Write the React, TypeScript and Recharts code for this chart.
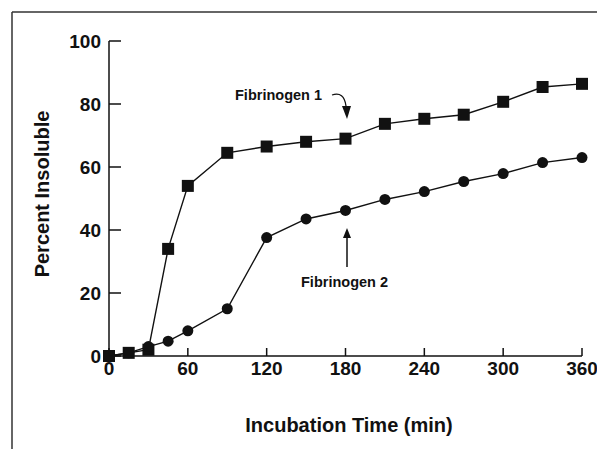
import { LineChart, Line, XAxis, YAxis } from 'recharts'

const TIMES = [0, 15, 30, 45, 60, 90, 120, 150, 180, 210, 240, 270, 300, 330, 360]
const FIBRINOGEN_1 = [0, 1, 2, 34, 54, 64.5, 66.5, 68, 69, 73.7, 75.3, 76.6, 80.7, 85.4, 86.4]
const FIBRINOGEN_2 = [0, 1, 3, 4.7, 8, 15, 37.6, 43.5, 46.2, 49.7, 52.2, 55.4, 57.9, 61.4, 63]
const X_TICKS = [0, 60, 120, 180, 240, 300, 360]
const Y_TICKS = [0, 20, 40, 60, 80, 100]

const data = TIMES.map((t, i) => ({ t, f1: FIBRINOGEN_1[i], f2: FIBRINOGEN_2[i] }))

const FONT = '"Liberation Sans", Arial, Helvetica, sans-serif'

function YTick({ x, y, payload }: any) {
  // tickMargin is 7, so axis line sits at x + 7
  return (
    <g>
      <line x1={x + 7} x2={x + 19} y1={y} y2={y} stroke="#111" strokeWidth={1.5} />
      <text x={x - 1} y={y} dy="0.36em" textAnchor="end" fontSize={19} fontWeight="bold" fill="#111" fontFamily={FONT}>
        {payload.value}
      </text>
    </g>
  )
}

function XTick({ x, y, payload }: any) {
  // tickMargin is 5, axis line at y - 5
  return (
    <g>
      <line x1={x} x2={x} y1={y - 5} y2={y - 13} stroke="#111" strokeWidth={1.5} />
      <text x={x} y={y} dy="0.75em" textAnchor="middle" fontSize={19} fontWeight="bold" fill="#111" fontFamily={FONT}>
        {payload.value}
      </text>
    </g>
  )
}

function SquareDot({ cx, cy, index }: any) {
  return <rect key={`s${index}`} x={cx - 6} y={cy - 6} width={12} height={12} fill="#111" />
}

function CircleDot({ cx, cy, index }: any) {
  return <circle key={`c${index}`} cx={cx} cy={cy} r={5.5} fill="#111" />
}

export default function App() {
  return (
    <div style={{ position: 'absolute', left: 0, top: 0, width: 597, height: 449, background: '#fff', fontFamily: FONT }}>
      <LineChart width={597} height={449} data={data} margin={{ top: 41, right: 15, left: 0, bottom: 63 }}>
        <XAxis
          dataKey="t"
          type="number"
          domain={[0, 360]}
          ticks={X_TICKS}
          interval={0}
          height={30}
          tickSize={0}
          tickMargin={5}
          tick={<XTick />}
          axisLine={{ stroke: '#111', strokeWidth: 1.5 }}
          tickLine={false}
        />
        <YAxis
          type="number"
          domain={[0, 100]}
          ticks={Y_TICKS}
          interval={0}
          width={109}
          tickSize={0}
          tickMargin={7}
          tick={<YTick />}
          axisLine={{ stroke: '#111', strokeWidth: 1.5 }}
          tickLine={false}
        />
        <Line dataKey="f1" stroke="#111" strokeWidth={1.4} dot={SquareDot} isAnimationActive={false} />
        <Line dataKey="f2" stroke="#111" strokeWidth={1.4} dot={CircleDot} isAnimationActive={false} />
      </LineChart>
      <svg width={597} height={449} style={{ position: 'absolute', left: 0, top: 0, pointerEvents: 'none' }}>
        <line x1={12} y1={12} x2={597} y2={12} stroke="#333" strokeWidth={1.5} />
        <line x1={12} y1={12} x2={12} y2={449} stroke="#333" strokeWidth={1.5} />
        <text
          x={42}
          y={194}
          transform="rotate(-90 42 194)"
          textAnchor="middle"
          dominantBaseline="central"
          fontSize={20}
          fontWeight="bold"
          fill="#111"
          fontFamily={FONT}
        >
          Percent Insoluble
        </text>
        <text x={349} y={432} textAnchor="middle" fontSize={20} fontWeight="bold" fill="#111" fontFamily={FONT}>
          Incubation Time (min)
        </text>
        <text x={235} y={100} fontSize={14.5} fontWeight="bold" fill="#111" fontFamily={FONT}>
          Fibrinogen 1
        </text>
        <path d="M 332 95 Q 344 91 346 106" fill="none" stroke="#111" strokeWidth={1.3} />
        <polygon points="342,106 351,106 347,119" fill="#111" />
        <line x1={347} y1={267} x2={347} y2={237} stroke="#111" strokeWidth={1.5} />
        <polygon points="343,238 351,238 347,228" fill="#111" />
        <text x={301} y={287} fontSize={14.5} fontWeight="bold" fill="#111" fontFamily={FONT}>
          Fibrinogen 2
        </text>
      </svg>
    </div>
  )
}
